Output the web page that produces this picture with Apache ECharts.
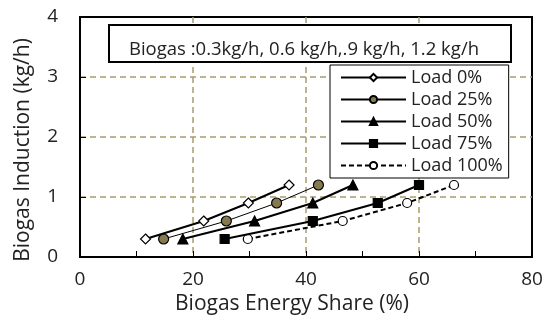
<!DOCTYPE html>
<html>
<head>
<meta charset="utf-8">
<script src="https://cdn.jsdelivr.net/npm/echarts@6/dist/echarts.min.js"></script>
<style>html,body{margin:0;padding:0;background:#fff}#c{width:549px;height:329px}</style>
</head>
<body>
<div id="c"></div>
<script>
const seriesNames = ['Load 0%', 'Load 25%', 'Load 50%', 'Load 75%', 'Load 100%'];
const induction = [0.3, 0.6, 0.9, 1.2];
const share0 = [11.6, 21.9, 29.8, 37.0];
const share25 = [14.8, 25.9, 34.8, 42.2];
const share50 = [18.2, 30.9, 41.2, 48.3];
const share75 = [25.6, 41.2, 52.7, 60.0];
const share100 = [29.7, 46.5, 57.9, 66.2];
const xTicks = [0, 20, 40, 60, 80];
const yTicks = [0, 1, 2, 3, 4];
const annotation = 'Biogas :0.3kg/h, 0.6 kg/h,.9 kg/h, 1.2 kg/h';

const FONT = 'Open Sans';
const pair = s => s.map((x, i) => [x, induction[i]]);

const styles = [
  { symbol: 'diamond', size: 10, fill: '#fff', width: 2, type: 'solid' },
  { symbol: 'circle', size: 10, fill: '#857a4e', width: 1, type: 'solid' },
  { symbol: 'triangle', size: 10, fill: '#000', width: 2, type: 'solid' },
  { symbol: 'rect', size: 9, fill: '#000', width: 2, type: 'solid' },
  { symbol: 'circle', size: 9, fill: '#fff', width: 2, type: [5, 3] }
];
const datas = [share0, share25, share50, share75, share100];
const gridLine = { show: true, showMinLine: false, showMaxLine: false, lineStyle: { color: '#a89c6c', type: [6, 4], width: 1.5 } };

const chart = echarts.init(document.getElementById('c'), null, { renderer: 'canvas' });
chart.setOption({
  animation: false,
  backgroundColor: '#fff',
  grid: { left: 80, right: 17, top: 17, bottom: 72, show: true, borderColor: '#000', borderWidth: 2, backgroundColor: 'transparent' },
  xAxis: {
    type: 'value', min: xTicks[0], max: xTicks[xTicks.length - 1], interval: 20,
    name: 'Biogas Energy Share (%)', nameLocation: 'middle', nameGap: 35,
    nameTextStyle: { fontFamily: FONT, fontSize: 21, color: '#222', padding: [0, 28, 0, 0] },
    axisLine: { show: true, lineStyle: { color: '#000', width: 2 } },
    axisTick: { show: true, inside: true, length: 6, lineStyle: { color: '#000' } },
    minorTick: { show: true, splitNumber: 2, length: 6, lineStyle: { color: '#000' } },
    axisLabel: { fontFamily: FONT, fontSize: 19, color: '#222', margin: 13 },
    splitLine: gridLine
  },
  yAxis: {
    type: 'value', min: yTicks[0], max: yTicks[yTicks.length - 1], interval: 1,
    name: 'Biogas Induction (kg/h)', nameLocation: 'middle', nameGap: 46,
    nameTextStyle: { fontFamily: FONT, fontSize: 21, color: '#222', padding: [0, 26, 0, 0] },
    axisLine: { show: true, lineStyle: { color: '#000', width: 2 } },
    axisTick: { show: true, inside: true, length: 6, lineStyle: { color: '#000' } },
    axisLabel: { fontFamily: FONT, fontSize: 19, color: '#222', margin: 22 },
    splitLine: gridLine
  },
  legend: {
    orient: 'vertical', left: 330, top: 65,
    itemWidth: 65, itemHeight: 9, itemGap: 3,
    padding: [3, 6, 3, 10],
    backgroundColor: '#fff', borderColor: '#000', borderWidth: 1,
    textStyle: { fontFamily: FONT, fontSize: 18, lineHeight: 19, color: '#222' },
    data: seriesNames
  },
  graphic: [
    { type: 'rect', left: 108, top: 24, z: 100, shape: { width: 402, height: 37 }, style: { fill: '#fff', stroke: '#000', lineWidth: 2 } },
    { type: 'text', x: 304, y: 50, z: 101, style: { text: annotation, fontFamily: FONT, fontSize: 18.5, fill: '#222', textAlign: 'center', textVerticalAlign: 'middle' } }
  ],
  series: datas.map((d, i) => ({
    name: seriesNames[i], type: 'line', data: pair(d),
    symbol: styles[i].symbol, symbolSize: styles[i].size, showSymbol: true,
    lineStyle: { color: '#000', width: styles[i].width, type: styles[i].type },
    itemStyle: { color: styles[i].fill, borderColor: '#000', borderWidth: 1.2 },
    z: 10 - i
  }))
});
</script>
</body>
</html>
